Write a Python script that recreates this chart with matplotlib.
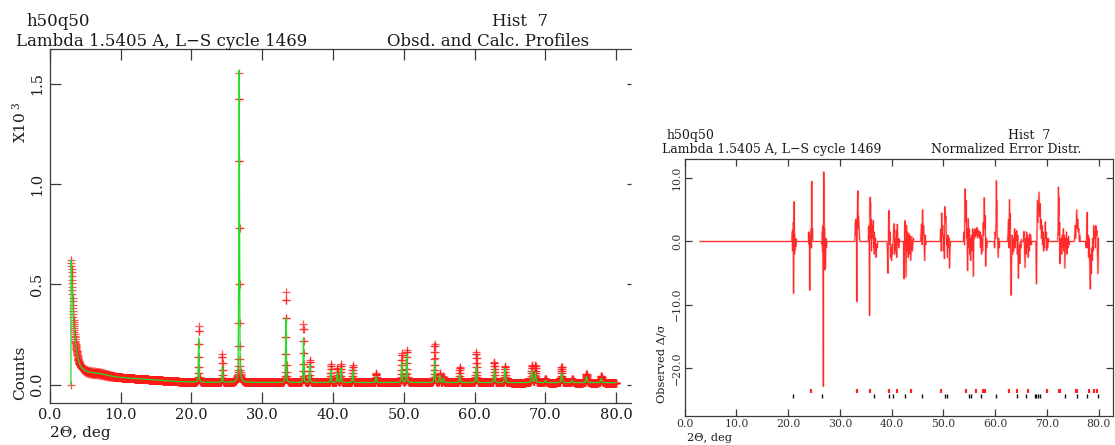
import numpy as np
import matplotlib
matplotlib.use("Agg")
import matplotlib.pyplot as plt

plt.rcParams['font.family'] = ['DejaVu Serif']
plt.rcParams['mathtext.fontset'] = 'dejavuserif'

# ---------------- data ----------------
# background of the profile (2theta, counts x 1e3)
bg_deg = [3.0, 3.02, 3.1, 3.2, 3.3, 3.4, 3.5, 3.6, 3.8, 4.0, 4.2, 4.5, 5.0, 5.5,
          6.0, 7.0, 7.5, 8.5, 9.5, 11.0, 13.0, 15.0, 17.0, 19.0, 22.0, 30.0, 80.0]
bg_cnt = [0.0, 0.62, 0.56, 0.47, 0.38, 0.31, 0.26, 0.22, 0.17, 0.13, 0.105, 0.085,
          0.07, 0.063, 0.060, 0.056, 0.052, 0.044, 0.038, 0.033, 0.028, 0.023,
          0.018, 0.014, 0.012, 0.011, 0.010]

# half-width of the scatter of the observed points about the profile
spread_deg = [3.0, 3.5, 4.0, 8.0, 10.0, 15.0, 20.0, 30.0, 80.0]
spread_cnt = [0.03, 0.03, 0.03, 0.028, 0.022, 0.012, 0.006, 0.004, 0.004]

# Bragg peaks: position, calculated and observed heights above background, FWHM
peak_pos  = [21.04, 24.38, 26.76, 33.36, 35.84, 36.74, 39.70, 40.62, 41.12, 42.80,
             46.10, 49.72, 50.42, 54.36, 55.10, 55.60, 57.90, 60.24, 62.80, 64.30,
             68.10, 68.60, 70.00, 72.30, 73.80, 75.80, 77.90]
peak_calc = [0.22, 0.08, 1.555, 0.32, 0.22, 0.09, 0.06, 0.05, 0.07, 0.06,
             0.03, 0.10, 0.14, 0.11, 0.035, 0.02, 0.04, 0.08, 0.07, 0.07,
             0.06, 0.05, 0.01, 0.05, 0.01, 0.03, 0.02]
peak_obs  = [0.28, 0.14, 1.54, 0.45, 0.29, 0.11, 0.09, 0.07, 0.09, 0.085,
             0.045, 0.145, 0.16, 0.19, 0.045, 0.03, 0.075, 0.15, 0.10, 0.08,
             0.085, 0.085, 0.02, 0.08, 0.02, 0.045, 0.035]
peak_fwhm = [0.11, 0.11, 0.12, 0.12, 0.12, 0.12, 0.13, 0.13, 0.13, 0.13,
             0.14, 0.14, 0.14, 0.15, 0.15, 0.15, 0.15, 0.16, 0.16, 0.16,
             0.17, 0.17, 0.17, 0.18, 0.18, 0.18, 0.19]

# normalized error (obs - calc)/sigma along 2theta
resid_deg = [3.0, 20.7,
             20.8, 20.85, 20.9, 20.95, 21.0, 21.05, 21.1, 21.15, 21.2, 21.25, 21.3, 21.4, 21.5, 21.6, 21.65,
             23.9,
             24.0, 24.05, 24.1, 24.15, 24.2, 24.25, 24.3, 24.4, 24.5, 24.55, 24.6, 24.65, 24.7, 24.75,
             26.45,
             26.55, 26.6, 26.65, 26.7, 26.75, 26.8, 26.85, 26.9, 26.95, 27.0, 27.05, 27.1, 27.15, 27.2, 27.3, 27.4, 27.5,
             32.9,
             33.0, 33.05, 33.1, 33.15, 33.2, 33.3, 33.35, 33.45, 33.5, 33.55, 33.6, 33.7, 33.8, 33.9,
             35.5,
             35.55, 35.6, 35.65, 35.7, 35.75, 35.8, 35.85, 35.9, 35.95, 36.0, 36.05, 36.1, 36.2, 36.3, 36.45,
             36.5, 36.6, 36.65, 36.7, 36.8, 36.9, 37.0, 37.1, 37.2, 37.3, 37.4,
             39.1,
             39.2, 39.3, 39.4, 39.5, 39.6, 39.7, 39.8, 39.9, 40.0, 40.1, 40.2, 40.35, 40.5, 40.6, 40.7, 40.8,
             40.9, 41.0, 41.1, 41.2, 41.3, 41.4, 41.5, 41.6,
             42.3,
             42.4, 42.5, 42.6, 42.7, 42.8, 42.9, 43.0, 43.1, 43.2, 43.3, 43.4, 43.5, 43.6, 43.7, 43.8, 43.9,
             44.0, 44.2, 44.3,
             45.6,
             45.7, 45.8, 45.9, 46.0, 46.1, 46.2, 46.3, 46.4, 46.5, 46.6, 46.7,
             49.4,
             49.5, 49.6, 49.7, 49.8, 49.9, 50.0, 50.1, 50.2, 50.3, 50.4, 50.5, 50.6, 50.7, 50.8, 50.9, 51.0,
             51.1, 51.2, 51.3, 51.4,
             53.9,
             54.0, 54.1, 54.2, 54.3, 54.4, 54.5, 54.6, 54.7, 54.8, 54.9, 55.0, 55.1, 55.2, 55.3, 55.4, 55.5,
             55.6, 55.7, 55.8, 55.9, 56.0, 56.1, 56.2, 56.3, 56.4, 56.5, 56.6, 56.7, 56.8, 56.9, 57.0, 57.1,
             57.2, 57.3, 57.4, 57.5, 57.6, 57.7, 57.8, 57.9, 58.0, 58.1, 58.2, 58.3, 58.4, 58.5,
             59.8,
             59.9, 60.0, 60.1, 60.2, 60.25, 60.3, 60.35, 60.4, 60.5, 60.6, 60.7, 60.8, 60.9,
             62.4,
             62.5, 62.6, 62.7, 62.8, 62.85, 62.9, 63.0, 63.1, 63.2, 63.3, 63.4, 63.5, 63.6, 63.7, 63.8, 63.9,
             64.0, 64.1, 64.2, 64.3, 64.4, 64.5, 64.6, 64.7, 64.8, 64.9, 65.0, 65.1, 65.2,
             65.5,
             65.6, 65.7, 65.8, 65.9, 66.0, 66.1, 66.2, 66.3, 66.4, 66.5, 66.6, 66.7, 66.8, 66.9, 67.0, 67.1,
             67.9,
             68.0, 68.1, 68.2, 68.3, 68.4, 68.5, 68.6, 68.7, 68.8, 68.9, 69.0, 69.1, 69.2, 69.3, 69.4, 69.5,
             69.6, 69.7, 69.8, 69.9, 70.0, 70.1, 70.2, 70.3, 70.4,
             72.1,
             72.2, 72.25, 72.3, 72.35, 72.4, 72.5, 72.55, 72.6, 72.7, 72.8, 72.9, 73.0, 73.1, 73.2, 73.3, 73.4,
             73.5, 73.6, 73.7, 73.8, 73.9, 74.0, 74.1, 74.2, 74.3, 74.4,
             75.3,
             75.4, 75.5, 75.6, 75.7, 75.8, 75.9, 76.0, 76.1, 76.2, 76.3, 76.4, 76.5,
             77.5,
             77.6, 77.7, 77.8, 77.9, 78.0, 78.1, 78.2, 78.3, 78.4, 78.5, 78.6, 78.7, 78.8, 78.9, 79.0, 79.1,
             79.2, 79.3, 79.4, 79.5, 79.6, 79.7, 79.8, 79.9, 80.0]
resid_val = [0.0, 0.0,
             1.5, -1.5, 1.8, -1.0, 3.0, -8.2, 2.0, 6.3, -2.0, 1.2, -1.5, 0.5, -0.8, 0.3, 0.0,
             0.0,
             1.5, -0.5, 1.2, -2.5, -7.7, 1.0, -1.0, 2.0, -1.0, 8.5, 9.5, 0.5, 2.0, 0.0,
             0.0,
             -0.5, 1.5, -1.5, 2.5, -10.5, -22.9, 3.0, 11.0, 9.0, -3.0, 2.0, -4.5, -1.0, -4.2, 0.5, -1.0, 0.0,
             0.0,
             3.0, 1.0, 3.5, 1.5, 2.5, -9.5, 3.0, 7.0, 8.0, 2.0, 4.0, 2.5, 0.5, 0.0,
             0.0,
             2.3, 1.5, 2.5, -3.5, -11.7, 5.0, 7.0, 4.0, 6.0, 0.5, 3.5, -1.5, 2.5, 0.5, 3.3,
             -1.0, 1.5, -2.0, 1.0, -1.5, 0.5, -2.5, -0.5, -1.0, 0.0, 0.0,
             0.0,
             -1.5, -5.0, 2.0, 4.9, -0.5, 1.5, -2.5, -1.0, -3.0, -0.5, -2.0, 1.0, 2.8, -2.0, 0.5, -1.5,
             1.8, -2.5, 2.7, -0.5, 0.5, -1.0, 0.3, 0.0,
             0.0,
             -5.9, 1.0, 3.3, -1.0, -5.6, 2.5, -1.5, 1.5, -2.5, 0.5, 1.2, -2.0, 0.8, -3.0, -1.0, 0.8,
             -1.5, 0.5, 0.0,
             0.0,
             1.5, 2.8, -0.5, 5.0, 1.0, 2.5, -0.5, -3.0, 1.0, -0.5, 0.0,
             0.0,
             2.0, -1.5, 4.5, 1.0, 2.5, -1.5, 1.0, -2.7, 5.5, 3.0, 4.0, -0.5, 0.5, -2.5, 1.0, -1.0,
             0.5, -4.2, -1.0, 0.0,
             0.0,
             1.5, -0.5, 8.3, 3.0, 6.5, 0.5, 2.0, -4.6, 3.6, -1.0, 2.0, -2.0, 0.5, -3.0, 1.0, -1.5,
             0.5, 2.0, -5.5, 1.5, 0.5, 2.0, 0.8, 1.8, 1.0, 2.2, 0.6, 1.8, 0.8, 1.6, 0.5, 1.5,
             -1.0, 1.0, -2.0, 0.5, -1.5, 3.0, 1.0, 6.9, 2.0, 4.1, -3.9, 0.5, -1.0, 0.0,
             0.0,
             -1.0, 1.5, 0.5, 3.0, 9.6, 4.0, 6.5, 1.0, 0.5, -2.5, 0.5, -1.0, 0.0,
             0.0,
             1.0, 3.5, -1.0, 6.6, 2.0, 4.5, -2.0, -8.5, -3.0, 1.0, -2.0, 0.5, -1.5, 0.0, 2.0, -1.0,
             1.5, 0.2, 1.7, -2.0, 1.0, -5.8, -2.0, -0.5, -3.5, 0.0, -1.0, 0.3, 0.0,
             0.0,
             1.6, -1.5, -4.1, 0.5, -2.0, 1.5, -1.0, 1.0, -2.5, 0.5, -1.5, 1.2, -0.5, 1.0, -0.5, 0.0,
             0.0,
             -6.7, 1.0, 6.5, 3.0, 5.5, 7.8, 4.0, 6.0, 2.0, 3.5, 0.5, 2.5, -0.5, 1.5, -1.5, 0.5,
             -1.0, 3.1, 0.5, 1.5, -1.4, 0.5, -1.0, 0.5, 0.0,
             0.0,
             2.0, 8.6, 4.0, 7.0, 1.0, 3.0, -3.5, 0.5, -1.5, 0.5, -2.0, 1.0, -1.0, 2.0, -1.5, 1.0,
             -4.2, 0.5, -1.0, 1.5, -2.0, 0.5, -1.0, 0.8, -0.5, 0.0,
             0.0,
             1.0, 2.5, 0.5, 3.0, 5.0, 2.0, 3.5, 1.5, 2.0, 0.0, 1.0, 0.0,
             0.0,
             -1.0, 1.0, 4.6, -1.0, 1.0, -2.5, 0.5, -3.0, -7.5, -2.0, -5.1, -1.0, -3.0, 0.5, -1.5, 2.5,
             0.5, 1.5, -1.0, 2.5, 1.0, 1.7, -2.0, -5.1, 0.5]

# reflection positions of the two phases
refl_red = [24.4, 33.4, 35.85, 39.5, 41.1, 43.7, 49.6, 54.4, 56.4, 57.7, 58.0, 62.7,
            64.3, 66.4, 70.0, 72.4, 72.6, 75.7, 75.9, 78.2, 79.1, 79.7]
refl_black = [20.95, 26.6, 36.6, 39.5, 40.3, 42.5, 45.9, 50.3, 50.7, 55.0, 55.4, 57.25,
              60.1, 64.15, 65.9, 67.7, 68.0, 68.3, 68.6, 73.6, 75.9, 77.8, 79.9]

left_xticks = [0, 10, 20, 30, 40, 50, 60, 70, 80]
left_yticks = [0.0, 0.5, 1.0, 1.5]
right_yticks = [-20, -10, 0, 10]

# ---------------- profile computation ----------------
step = 0.02
tt = np.arange(3.0, 80.0 + step / 2, step)


def profile(heights):
    y = np.interp(tt, bg_deg, bg_cnt)
    for p, h, w in zip(peak_pos, heights, peak_fwhm):
        d = (tt - p) / w
        y = y + h * (0.6 * np.exp(-4 * np.log(2) * d ** 2) + 0.4 / (1 + 4 * d ** 2))
    return y


ycalc = profile(peak_calc)
yobs = profile(peak_obs)
spread = np.interp(tt, spread_deg, spread_cnt)

# ---------------- figure ----------------
W, H = 1115, 445
fig = plt.figure(figsize=(W / 100, H / 100), dpi=100)
TXT = '#1a1a1a'
SPN = '#3a3a3a'


def box(x0, y0, x1, y1):
    return [x0 / W, 1 - y1 / H, (x1 - x0) / W, (y1 - y0) / H]


def ftext(x, y, s, size, **kw):
    fig.text(x / W, 1 - y / H, s, fontsize=size, color=TXT, **kw)


# ---- left panel: observed and calculated profiles ----
ax1 = fig.add_axes(box(49.7, 49.2, 631, 402.7))
ax1.fill_between(tt[1:], (yobs - spread)[1:], (yobs + spread)[1:], color='#ff2a2a',
                 alpha=0.75, lw=0, zorder=1)
ax1.plot(tt, yobs, linestyle='none', marker='+', ms=5.5, mew=0.9,
         color='#ff1a1a', alpha=0.75, zorder=2)
ax1.plot(tt, ycalc, color='#22dd22', lw=0.9, zorder=3)
ax1.set_xlim(0, 82.1)
ax1.set_ylim(-0.09, 1.672)
ax1.set_xticks(left_xticks)
ax1.set_xticklabels(['%.1f' % v for v in left_xticks])
ax1.set_yticks(left_yticks)
ax1.set_yticklabels(['%.1f' % v for v in left_yticks], rotation=90, va='center')
ax1.tick_params(direction='in', length=8, width=0.9, colors=SPN, labelcolor=TXT,
                top=True, right=True, labelsize=10.5, pad=4)
for t in ax1.yaxis.get_major_ticks():
    t.tick2line.set_markersize(3)
ax1.spines['right'].set_visible(False)
for s in ['left', 'top', 'bottom']:
    ax1.spines[s].set_color(SPN)
    ax1.spines[s].set_linewidth(0.9)

ftext(26, 21, 'h50q50', 12, ha='left', va='center')
ftext(16, 41, 'Lambda 1.5405 A, L\u2212S cycle 1469', 12, ha='left', va='center')
ftext(492, 21, 'Hist  7', 12, ha='left', va='center')
ftext(387, 41, 'Obsd. and Calc. Profiles', 12, ha='left', va='center')
ftext(20, 122, r'X10$^{\ 3}$', 11, rotation=90, ha='center', va='center')
ftext(20, 373, 'Counts', 11, rotation=90, ha='center', va='center')
ftext(50, 433, '2\u0398, deg', 11, ha='left', va='center')

# ---- right panel: normalized error distribution ----
ax2 = fig.add_axes(box(684.7, 159.3, 1113, 416))
ax2.plot(resid_deg, resid_val, color='#ff3030', lw=1.6, alpha=0.3, zorder=2)
ax2.plot(resid_deg, resid_val, color='#ff1010', lw=0.7, alpha=0.85, zorder=3)
ax2.plot(refl_red, [-23.6] * len(refl_red), linestyle='none', marker='|', ms=3.5,
         mew=1.6, color='#ff2020')
ax2.plot(refl_black, [-24.5] * len(refl_black), linestyle='none', marker='|', ms=3.5,
         mew=1.0, color='#111111')
ax2.set_xlim(0, 82.8)
ax2.set_ylim(-27.6, 13.0)
ax2.set_xticks(left_xticks)
ax2.set_xticklabels(['%.1f' % v for v in left_xticks])
ax2.set_yticks(right_yticks)
ax2.set_yticklabels([('%.1f' % v).replace('-', '\u2212') for v in right_yticks],
                    rotation=90, va='center')
ax2.tick_params(direction='in', length=5, width=0.9, colors=SPN, labelcolor='#333333',
                top=True, right=True, labelsize=7.8, pad=2)
for s in ax2.spines.values():
    s.set_color(SPN)
    s.set_linewidth(0.9)

ftext(667, 135, 'h50q50', 9, ha='left', va='center')
ftext(662, 150, 'Lambda 1.5405 A, L\u2212S cycle 1469', 9, ha='left', va='center')
ftext(1008, 135, 'Hist  7', 9, ha='left', va='center')
ftext(931, 150, 'Normalized Error Distr.', 9, ha='left', va='center')
ftext(662, 364, 'Observed \u0394/\u03c3', 8.2, rotation=90, ha='center', va='center')
ftext(687, 438, '2\u0398, deg', 8.2, ha='left', va='center')

fig.savefig('out.png', dpi=100)
